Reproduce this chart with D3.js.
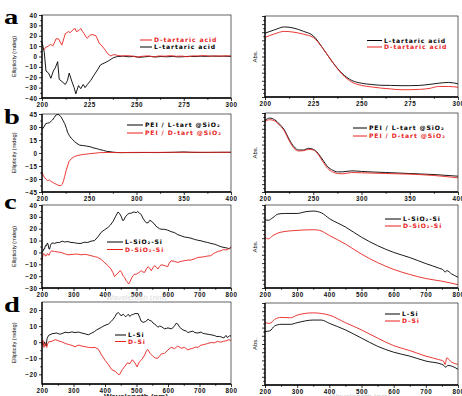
<!DOCTYPE html>
<html>
<head>
<meta charset="utf-8">
<script src="https://cdn.jsdelivr.net/npm/d3@7"></script>
<style>
  body { margin: 0; background: #fff; }
  svg { display: block; font-family: "Liberation Sans", Arial, sans-serif; }
</style>
</head>
<body>
<svg id="chart" width="462" height="396"></svg>
<script>
// ---- panel a : tartaric acid ----
const cdTartD = [[200.9,6],[202,9],[203.5,10],[204.5,12],[205.6,10],[206.5,13],[207.4,17],[208.8,17],[209.6,14],[210.5,11],[211.5,17],[212.3,22],[214,24],[215,23],[216.5,26],[217.5,27],[218.2,24],[219.5,25],[220.5,27],[221.5,24],[222.3,22],[223.2,19],[224,17.5],[225,20],[225.9,21],[227,21],[228.5,20],[229.3,17],[230.2,13],[231.2,11],[232.3,9],[233.5,6],[234.6,3],[235.5,1.5],[236.4,0.5],[237.5,1.5],[238.5,1.8],[240,1],[242,0.5],[245,0.8],[248,0.4],[250,-0.6],[253,0.2],[256,0.6],[259,-0.3],[262,0.5],[265,0.3],[268,0.8],[271,0.2],[274,0.4],[277,-0.2],[280,0.6],[283,0.5],[286,0.9],[289,0.3],[292,0.6],[295,0.4],[298,0.7],[300,0.5]];
const cdTartL = [[200,14],[200.6,9],[201.2,4],[202.1,-14],[203.5,-16],[204.7,-21],[206,-14],[207,-11],[208.3,-5],[209.1,-22],[210.5,-24],[212.3,-27],[213.5,-23],[214.4,-16],[215.8,-24],[217,-30],[217.9,-36],[219.3,-28],[220.5,-31],[221.8,-27],[222.8,-30],[224,-27],[225.8,-23],[227.5,-18],[229.3,-13],[231,-8],[233.3,-6],[235.4,-4],[237,-2],[238,-1],[240,0],[243,0.3],[246,-0.3],[249,0.2],[251,-0.8],[254,-0.4],[257,0.2],[260,-0.5],[263,0],[266,-0.3],[269,0.1],[272,-0.4],[275,-0.2],[278,0.2],[281,-0.1],[284,0.3],[287,0.1],[290,0.4],[293,0.2],[296,0.3],[300,0.1]];
const uvTartX = [200,205,210,215,220,225,230,235,240,245,250,255,260,265,270,275,280,285,290,295,300];
const uvTartL = [0.788,0.83,0.865,0.85,0.81,0.755,0.6,0.43,0.29,0.204,0.17,0.155,0.145,0.143,0.14,0.14,0.143,0.155,0.17,0.18,0.163];
const uvTartD = [0.735,0.78,0.81,0.80,0.775,0.735,0.6,0.43,0.28,0.184,0.143,0.125,0.11,0.1,0.09,0.09,0.094,0.105,0.13,0.13,0.12];

// ---- panel b : PEI / tart @SiO2 ----
const cdPeiL = [[200,27],[202,30],[204,34],[206,34.5],[208,35],[210,37],[211,38],[213,41],[215,44],[217,44.5],[218,44],[220,42],[222,38],[224,34],[226,28],[227,24],[229,20],[231,17],[233,15],[234.5,13],[237,11],[240,9],[244,8.5],[247,8],[251,7.2],[254,6],[258,5],[261,4],[265,3],[268,2],[272,1.5],[275,1],[279,0.6],[283,0.4],[290,0.5],[300,0.5],[310,0.6],[320,0.5],[330,0.6],[340,0.8],[350,1.2],[355,0.9],[360,0.7],[370,0.6],[380,0.7],[390,0.8],[400,0.8]];
const cdPeiD = [[200,-22],[201.5,-26],[202.5,-28],[204,-30],[206,-32],[207,-31.5],[208,-31],[209.6,-33],[211,-33.5],[213,-35],[215,-36],[218,-37.6],[220,-37.6],[221.5,-36],[222.8,-32],[224,-27],[225.6,-20],[227,-15],[228.5,-10],[231,-6.6],[234.5,-4],[238,-2.8],[241.6,-2],[246,-1.4],[250.5,-0.8],[256,-0.2],[261,0.4],[270,0.6],[280,0.5],[290,0.6],[300,0.7],[320,0.7],[340,0.8],[360,0.9],[380,0.8],[400,0.9]];
const uvPeiX = [200,205,210,215,220,225,230,235,240,245,250,255,260,265,270,275,280,290,300,325,350,375,400];
const uvPeiL = [0.906,0.936,0.915,0.86,0.787,0.668,0.574,0.532,0.532,0.553,0.54,0.49,0.404,0.32,0.277,0.255,0.255,0.268,0.26,0.247,0.234,0.221,0.2];
const uvPeiD = [0.894,0.915,0.9,0.845,0.774,0.651,0.553,0.519,0.523,0.54,0.532,0.477,0.383,0.298,0.255,0.234,0.23,0.247,0.243,0.234,0.226,0.209,0.179];

// ---- panel c : SiO2-Si ----
const cdSio2L = [[200,0],[203,1],[206,3],[208,2.8],[211,6],[214,5.6],[217,8],[219,7],[222,3],[224,2.8],[227,6],[230,7.6],[235,8],[240,7.6],[248,8.4],[256,8.4],[264,9.5],[272,8.8],[282,9.2],[292,8.4],[303,8.2],[313,7.6],[324,7.6],[334,8.6],[345,8.4],[356,9.5],[367,10],[377,13],[388,17],[398,19],[409,21],[417,23],[425,26],[433,30],[441,34],[446,33],[452,30],[456,27],[459,27],[465,30],[471,32],[477,33],[483,33],[489,34],[494,34],[499,33.5],[504,34.5],[510,33],[515,32],[520,29],[526,26.6],[531,25],[537,25],[542,27],[547,26.6],[552,25],[557,24],[562,22],[568,21],[573,20],[578,19.6],[588,19.5],[599,18.8],[610,17.5],[620,16.8],[631,15],[642,14],[652,13],[663,12.6],[673,12],[684,11],[694,10.3],[705,9.8],[715,9],[726,8.4],[736,7.6],[747,7],[757,6],[768,4.8],[778,4.2],[789,3.6],[795,3],[800,4.8]];
const cdSio2D = [[200,-7],[201,-5],[203,-2.8],[205,-1],[208,-1.4],[211,-3],[214,-2.8],[217,-1],[219,-1.4],[222,-2.5],[226,0],[230,1.4],[235,1],[240,0.8],[250,0.4],[261,0],[271,-1],[282,-2],[292,-1.8],[303,-1.5],[313,-1.4],[324,-2],[335,-1.6],[345,-2],[356,-2.8],[367,-3.5],[377,-4.2],[388,-6],[398,-8.4],[409,-11],[419,-14],[425,-17],[430,-20.4],[435,-19],[441,-17.6],[445,-16],[449,-15.4],[453,-17],[457,-19.6],[462,-21],[467,-23.8],[471,-25],[475,-26.6],[479,-25],[483,-22.4],[488,-20],[494,-18.2],[499,-18.5],[504,-17.6],[510,-16.5],[515,-15.4],[520,-16.5],[526,-16.8],[531,-14],[537,-12],[542,-13.5],[547,-15.4],[552,-13],[557,-11.2],[562,-12],[568,-14],[573,-12],[578,-10.4],[588,-11],[599,-12],[604,-9],[610,-7],[620,-7.5],[631,-8.4],[642,-7.5],[652,-7],[663,-6.5],[673,-6.4],[684,-5.5],[694,-4.2],[705,-4],[715,-3.6],[726,-3],[736,-2.8],[744,-1],[752,0],[760,1],[768,1.4],[776,2.5],[784,2],[792,3],[800,4.2]];
const uvSio2L = [[200,0.824],[210,0.816],[225,0.849],[240,0.89],[260,0.898],[300,0.898],[325,0.918],[350,0.927],[375,0.906],[400,0.837],[450,0.735],[500,0.612],[550,0.51],[600,0.429],[650,0.367],[700,0.294],[740,0.24],[755,0.215],[760,0.19],[765,0.21],[780,0.17],[800,0.13]];
const uvSio2D = [[200,0.612],[210,0.592],[225,0.633],[250,0.673],[300,0.694],[350,0.702],[370,0.694],[400,0.633],[450,0.53],[500,0.408],[550,0.306],[600,0.224],[650,0.163],[700,0.114],[750,0.082],[800,0.04]];

// ---- panel d : Si ----
const cdSiL = [[200,-0.8],[205,-1.8],[208,0.2],[213,-2.4],[216,2.2],[221,4.2],[232,5.3],[247,5.7],[255,5],[263,5.3],[273,6.2],[284,5.9],[295,6.4],[305,6],[316,6.3],[326,5.7],[337,5.2],[347,4.6],[358,5.7],[366,6.5],[374,7.7],[389,9.3],[400,10.5],[411,11.3],[420,13],[426,14.3],[432,16],[437,17.8],[442,18.4],[447,17.5],[451,16.4],[458,17.4],[462,16.5],[466,15.8],[474,17.4],[479,16],[484,17],[490,17.3],[495,17.8],[505,17.8],[510,15.5],[514,13.3],[521,12.3],[529,12.9],[537,14.3],[542,13.5],[547,13.3],[552,12],[558,11.3],[568,9.3],[573,10],[579,9.7],[589,8.3],[600,8.9],[610,8.3],[616,9],[621,10.3],[626,11.8],[631,11.3],[637,9.3],[647,7.7],[658,6.9],[663,6],[668,6.3],[679,6.9],[685,6],[695,5.7],[705,6.3],[711,5.5],[716,5.3],[731,4.8],[747,4.2],[755,3.5],[763,3.6],[770,3.2],[777,2.6],[784,4.2],[789,2.8],[795,4],[800,3.8]];
const cdSiD = [[200,-1.8],[203,1.2],[206,-3.2],[211,-0.8],[215,-3.2],[218,-1],[221,0.2],[232,0.6],[242,1.6],[253,0.8],[263,0.2],[274,-0.8],[284,-1.4],[295,-2],[305,-2.8],[316,-1.8],[326,-2.4],[337,-2.8],[347,-3.2],[358,-3.4],[368,-3.2],[379,-4.4],[389,-7.9],[400,-11.3],[411,-13.9],[421,-17],[432,-18],[442,-20],[447,-20],[451,-18.5],[455,-17],[463,-15],[471,-12.9],[479,-13.3],[487,-10.9],[495,-12.9],[502,-15.4],[507,-13],[511,-11.9],[518,-10.5],[526,-7.9],[530,-6],[535,-4.4],[539,-5.5],[543,-6.9],[553,-8.9],[560,-9.9],[568,-9.9],[574,-8.5],[579,-7.3],[589,-6.9],[600,-4.8],[610,-3.2],[621,-4],[631,-2.4],[642,-3.8],[652,-3.2],[663,-4.8],[671,-4.2],[679,-3.8],[687,-3],[695,-3.2],[705,-1.8],[716,-1.4],[726,-0.8],[737,-0.2],[747,-0.4],[757,0.5],[768,0],[776,0.6],[784,0.8],[792,1.5],[800,1.2]];
const uvSiL = [[200,0.652],[215,0.66],[230,0.72],[250,0.74],[280,0.74],[300,0.76],[350,0.792],[375,0.792],[400,0.752],[450,0.672],[500,0.572],[550,0.472],[600,0.4],[650,0.352],[700,0.292],[750,0.252],[758,0.23],[762,0.215],[768,0.24],[800,0.192]];
const uvSiD = [[200,0.76],[215,0.752],[230,0.8],[250,0.824],[280,0.82],[300,0.852],[350,0.88],[375,0.872],[400,0.852],[450,0.76],[500,0.672],[550,0.572],[600,0.48],[650,0.42],[700,0.352],[740,0.31],[755,0.29],[760,0.25],[765,0.33],[780,0.28],[800,0.252]];

// tick values
const xTicksA = [200, 225, 250, 275, 300];
const xTicksB = [200, 250, 300, 350, 400];
const xTicksC = [200, 300, 400, 500, 600, 700, 800];
const yTicksA = [-40, -30, -20, -10, 0, 10, 20, 30, 40];
const yTicksB = [-45, -30, -15, 0, 15, 30, 45];
const yTicksC = [-30, -20, -10, 0, 10, 20, 30, 40];
const yTicksD = [-20, -10, 0, 10, 20];
const absTicks = [0, 0.1, 0.2, 0.3, 0.4, 0.5, 0.6, 0.7, 0.8, 0.9, 1];

const RED = '#e8231e';
const BLACK = '#000';
const svg = d3.select('#chart');

const zip = (xs, ys) => xs.map((v, i) => [v, ys[i]]);
const mids = t => t.slice(1).map((v, i) => (v + t[i]) / 2);

function panel(p) {
    const x = d3.scaleLinear().domain(p.xDomain).range([p.left, p.right]);
    const y = d3.scaleLinear().domain(p.yDomain).range([p.bottom, p.top]);
    const g = svg.append('g');

    // lines
    const line = d3.line()
        .x(d => x(d[0]))
        .y(d => y(d[1]))
        .curve(p.smooth ? d3.curveMonotoneX : d3.curveLinear);
    p.series.forEach(s => {
        g.append('path')
            .attr('d', line(s.data))
            .attr('fill', 'none')
            .attr('stroke', s.color)
            .attr('stroke-width', 0.9);
    });

    // frame
    g.append('rect')
        .attr('x', p.left).attr('y', p.top)
        .attr('width', p.right - p.left).attr('height', p.bottom - p.top)
        .attr('fill', 'none').attr('stroke', '#222').attr('stroke-width', 0.7);
    g.append('path')
        .attr('d', `M${p.left},${p.top}V${p.bottom}H${p.right}`)
        .attr('fill', 'none').attr('stroke', '#000').attr('stroke-width', 1.3);

    // x axis
    g.append('g').attr('transform', `translate(0,${p.bottom})`)
        .call(d3.axisBottom(x).tickValues(p.xTicks).tickSize(3).tickPadding(1.5));
    g.append('g').attr('transform', `translate(0,${p.bottom})`)
        .call(d3.axisBottom(x).tickValues(mids(p.xTicks)).tickSize(1.8).tickFormat(''));

    // y axis
    g.append('g').attr('transform', `translate(${p.left},0)`)
        .call(d3.axisLeft(y).tickValues(p.yTicks).tickSize(3).tickPadding(1.5)
            .tickFormat(p.yLabels ? d3.format('d') : ''));
    g.append('g').attr('transform', `translate(${p.left},0)`)
        .call(d3.axisLeft(y).tickValues(mids(p.yTicks)).tickSize(1.8).tickFormat(''));

    g.selectAll('.domain').remove();
    g.selectAll('.tick line').attr('stroke', '#000').attr('stroke-width', 0.8);
    g.selectAll('.tick text')
        .attr('font-family', '"Liberation Sans", Arial, sans-serif')
        .attr('font-size', 6.3).attr('font-weight', 'bold')
        .attr('letter-spacing', 0.5).attr('fill', '#111');

    // y title
    g.append('text')
        .attr('transform', `translate(${p.yTitleX},${(p.top + p.bottom) / 2}) rotate(-90)`)
        .attr('text-anchor', 'middle')
        .attr('font-size', p.yLabels ? 5.6 : 6)
        .attr('fill', '#111')
        .text(p.yTitle);

    // legend
    p.legend.items.forEach((it, i) => {
        const ly = p.legend.y + i * p.legend.dy;
        g.append('line')
            .attr('x1', p.legend.x).attr('x2', p.legend.x + p.legend.len)
            .attr('y1', ly).attr('y2', ly)
            .attr('stroke', it.color).attr('stroke-width', 1);
        g.append('text')
            .attr('x', p.legend.x + p.legend.len + 2).attr('y', ly + 2.2)
            .attr('font-family', '"DejaVu Sans", "Liberation Sans", sans-serif')
            .attr('font-size', 6.1).attr('font-weight', 'bold')
            .attr('letter-spacing', 0.9).attr('fill', it.color)
            .text(it.text);
    });
}

const leftX = [42, 231];
const rightX = [265, 458];

panel({
    left: leftX[0], right: leftX[1], top: 15, bottom: 98,
    xDomain: [200, 300], yDomain: [-40, 40], xTicks: xTicksA, yTicks: yTicksA, yLabels: true,
    yTitle: 'Ellipticity (mdeg)', yTitleX: 16,
    series: [{ data: cdTartL, color: BLACK }, { data: cdTartD, color: RED }],
    legend: { x: 140, len: 12, y: 40, dy: 7, items: [
        { text: 'D-tartaric acid', color: RED },
        { text: 'L-tartaric acid', color: BLACK }] }
});
panel({
    left: rightX[0], right: rightX[1], top: 16, bottom: 97, smooth: true,
    xDomain: [200, 300], yDomain: [0, 1], xTicks: xTicksA, yTicks: absTicks, yLabels: false,
    yTitle: 'Abs.', yTitleX: 257,
    series: [{ data: zip(uvTartX, uvTartL), color: BLACK }, { data: zip(uvTartX, uvTartD), color: RED }],
    legend: { x: 367, len: 15, y: 40.5, dy: 6.5, items: [
        { text: 'L-tartaric acid', color: BLACK },
        { text: 'D-tartaric acid', color: RED }] }
});
panel({
    left: leftX[0], right: leftX[1], top: 114, bottom: 192,
    xDomain: [200, 400], yDomain: [-45, 45], xTicks: xTicksB, yTicks: yTicksB, yLabels: true,
    yTitle: 'Ellipticity (mdeg)', yTitleX: 16,
    series: [{ data: cdPeiL, color: BLACK }, { data: cdPeiD, color: RED }],
    legend: { x: 127, len: 16, y: 125, dy: 8, items: [
        { text: 'PEI / L-tart @SiO₂', color: BLACK },
        { text: 'PEI / D-tart @SiO₂', color: RED }] }
});
panel({
    left: rightX[0], right: rightX[1], top: 113, bottom: 192, smooth: true,
    xDomain: [200, 400], yDomain: [0, 1], xTicks: xTicksB, yTicks: absTicks, yLabels: false,
    yTitle: 'Abs.', yTitleX: 257,
    series: [{ data: zip(uvPeiX, uvPeiL), color: BLACK }, { data: zip(uvPeiX, uvPeiD), color: RED }],
    legend: { x: 353, len: 14, y: 128, dy: 8, items: [
        { text: 'PEI / L-tart @SiO₂', color: BLACK },
        { text: 'PEI / D-tart @SiO₂', color: RED }] }
});
panel({
    left: leftX[0], right: leftX[1], top: 205, bottom: 288,
    xDomain: [200, 800], yDomain: [-30, 40], xTicks: xTicksC, yTicks: yTicksC, yLabels: true,
    yTitle: 'Ellipticity (mdeg)', yTitleX: 16,
    series: [{ data: cdSio2L, color: BLACK }, { data: cdSio2D, color: RED }],
    legend: { x: 107, len: 16, y: 242, dy: 7.5, items: [
        { text: 'L-SiO₂-Si', color: BLACK },
        { text: 'D-SiO₂-Si', color: RED }] }
});
panel({
    left: rightX[0], right: rightX[1], top: 205, bottom: 288, smooth: true,
    xDomain: [200, 800], yDomain: [0, 1], xTicks: xTicksC, yTicks: absTicks, yLabels: false,
    yTitle: 'Abs.', yTitleX: 257,
    series: [{ data: uvSio2L, color: BLACK }, { data: uvSio2D, color: RED }],
    legend: { x: 385, len: 16, y: 219, dy: 7, items: [
        { text: 'L-SiO₂-Si', color: BLACK },
        { text: 'D-SiO₂-Si', color: RED }] }
});
panel({
    left: leftX[0], right: leftX[1], top: 302, bottom: 384,
    xDomain: [200, 800], yDomain: [-26, 25], xTicks: xTicksC, yTicks: yTicksD, yLabels: true,
    yTitle: 'Ellipticity (mdeg)', yTitleX: 16,
    series: [{ data: cdSiL, color: BLACK }, { data: cdSiD, color: RED }],
    legend: { x: 115, len: 11, y: 335, dy: 6.5, items: [
        { text: 'L-Si', color: BLACK },
        { text: 'D-Si', color: RED }] }
});
panel({
    left: rightX[0], right: rightX[1], top: 303, bottom: 385, smooth: true,
    xDomain: [200, 800], yDomain: [0, 1], xTicks: xTicksC, yTicks: absTicks, yLabels: false,
    yTitle: 'Abs.', yTitleX: 257,
    series: [{ data: uvSiL, color: BLACK }, { data: uvSiD, color: RED }],
    legend: { x: 385, len: 15, y: 314, dy: 7, items: [
        { text: 'L-Si', color: BLACK },
        { text: 'D-Si', color: RED }] }
});

// panel letters
[['a', 24], ['b', 124], ['c', 209], ['d', 312]].forEach(([t, by]) => {
    svg.append('text')
        .attr('transform', `translate(4,${by}) scale(1.3,1)`)
        .attr('font-family', '"Liberation Serif", "DejaVu Serif", serif')
        .attr('font-size', 22).attr('font-weight', 'bold')
        .text(t);
});

// x titles (mostly hidden behind the panel below / cut by the page edge)
svg.append('text').attr('x', 136).attr('y', 300).attr('text-anchor', 'middle')
    .attr('font-size', 8).attr('fill', '#ddd').text('Wavelength (nm)');
svg.append('text').attr('x', 136).attr('y', 399).attr('text-anchor', 'middle')
    .attr('font-size', 8).attr('font-weight', 'bold').attr('fill', '#222').text('Wavelength (nm)');
svg.append('text').attr('x', 360).attr('y', 399).attr('text-anchor', 'middle')
    .attr('font-size', 8).attr('fill', '#ccc').text('Wavelength (nm)');
</script>
</body>
</html>
